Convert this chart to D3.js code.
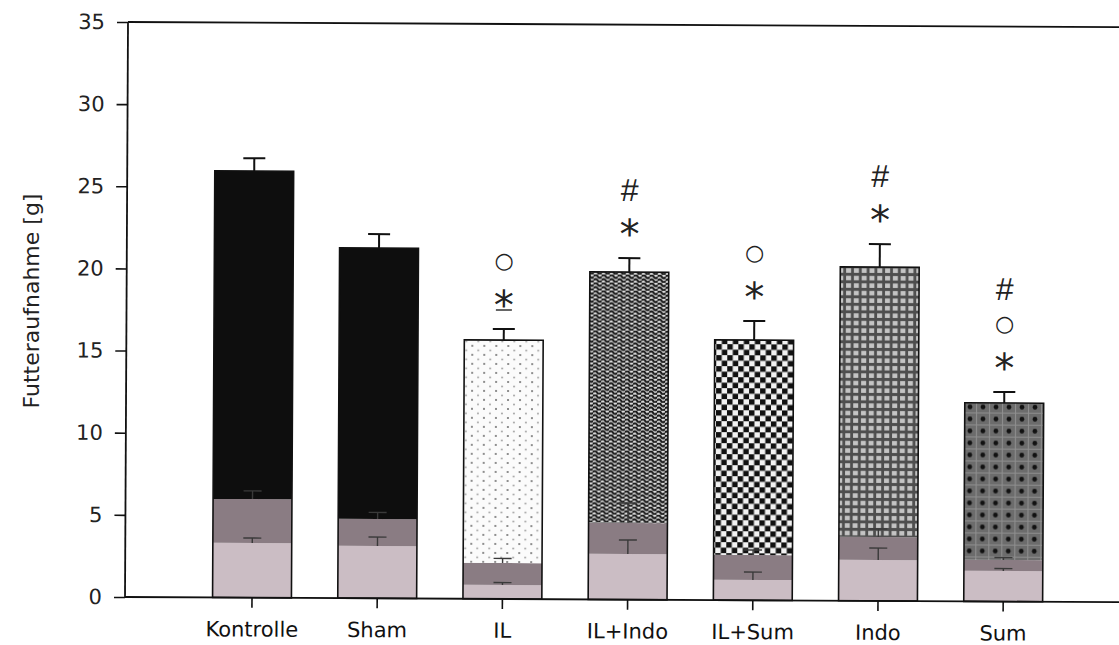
<!DOCTYPE html>
<html>
<head>
<meta charset="utf-8">
<script src="https://cdn.jsdelivr.net/npm/d3@7"></script>
<style>
  body { margin: 0; background: #fff; }
  svg { display: block; }
</style>
</head>
<body>
<svg id="chart" width="1119" height="645"></svg>
<script>
// Food intake per group, stacked in three portions (g)
const categories = ["Kontrolle", "Sham", "IL", "IL+Indo", "IL+Sum", "Indo", "Sum"];
const baseValues = [3.33, 3.18, 0.85, 2.78, 1.24, 2.49, 1.86];
const midValues  = [2.67, 1.65, 1.34, 1.88, 1.52, 1.40, 0.67];
const topValues  = [19.97, 16.49, 13.57, 15.28, 13.08, 16.43, 9.56];
const baseErr  = [0.3, 0.55, 0.15, 0.85, 0.48, 0.73, 0.15];
const midErr   = [0.5, 0.4, 0.28, 1.22, 0.3, 0.49, 0.15];
const totalErr = [0.78, 0.85, 0.67, 0.85, 1.16, 1.4, 0.67];
const topFills = ["solid", "solid", "dots", "waves", "checker", "grid", "darkdots"];
// significance marks, listed top to bottom
const marks = [[], [], ["○", "*"], ["#", "*"], ["○", "*"], ["#", "*"], ["#", "○", "*"]];
const underlinedStar = ["IL"];
const yTicks = [0, 5, 10, 15, 20, 25, 30, 35];
const yLabel = "Futteraufnahme [g]";

const rows = categories.map((c, i) => ({
  cat: c, base: baseValues[i], mid: midValues[i], top: topValues[i],
  baseErr: baseErr[i], midErr: midErr[i], totalErr: totalErr[i],
  fill: topFills[i], marks: marks[i]
}));

const svg = d3.select("#chart");
const defs = svg.append("defs");

const x0 = 125, yBottom = 597, yTop = 22;
const x = d3.scaleBand().domain(categories).range([189.4, 1065.8])
  .paddingInner(0.37).paddingOuter(0.185);
const y = d3.scaleLinear().domain([0, 35]).range([yBottom, yTop]);

// ---- fill patterns for the top portion ----
function pattern(id, w, h, draw) {
  const p = defs.append("pattern").attr("id", id)
    .attr("patternUnits", "userSpaceOnUse").attr("width", w).attr("height", h);
  draw(p);
}
pattern("dots", 12, 9, p => {
  p.append("rect").attr("width", 12).attr("height", 9).attr("fill", "#fbfbfb");
  p.append("circle").attr("cx", 3).attr("cy", 2).attr("r", 1).attr("fill", "#6a6a6a");
  p.append("circle").attr("cx", 9).attr("cy", 6.5).attr("r", 0.9).attr("fill", "#9a9a9a");
});
pattern("waves", 8, 8, p => {
  p.append("rect").attr("width", 8).attr("height", 8).attr("fill", "#e0e0e0");
  p.append("path").attr("d", "M0,2 q2,-3 4,0 t4,0 M0,6 q2,-3 4,0 t4,0")
    .attr("fill", "none").attr("stroke", "#111").attr("stroke-width", 2.2);
});
pattern("checker", 11, 11, p => {
  p.append("rect").attr("width", 11).attr("height", 11).attr("fill", "#f2f2f2");
  p.append("rect").attr("width", 5.5).attr("height", 5.5).attr("fill", "#111");
  p.append("rect").attr("x", 5.5).attr("y", 5.5).attr("width", 5.5).attr("height", 5.5).attr("fill", "#111");
});
pattern("grid", 7.8, 7.5, p => {
  p.append("rect").attr("width", 7.8).attr("height", 7.5).attr("fill", "#4e4e4e");
  p.append("rect").attr("x", 2).attr("y", 2).attr("width", 5).attr("height", 4.5).attr("fill", "#c4c4c4");
});
pattern("darkdots", 13, 12, p => {
  p.append("rect").attr("width", 13).attr("height", 12).attr("fill", "#6c6c6c");
  p.append("path").attr("d", "M0,0.5 H13 M0.5,0 V12").attr("stroke", "#8e8e8e").attr("stroke-width", 1.2);
  p.append("circle").attr("cx", 7).attr("cy", 6.5).attr("r", 2.4).attr("fill", "#111");
});
const fillFor = f => f === "solid" ? "#0e0e0e" : `url(#${f})`;

// slight rotation of the whole plot
const g = svg.append("g").attr("transform", `rotate(0.3, ${x0}, ${yBottom})`);

// ---- stacked bars ----
const stack = d3.stack().keys(["base", "mid", "top"])(rows);
const segFill = {
  base: () => "#cbbdc4",
  mid: () => "#8a7c83",
  top: d => fillFor(d.data.fill)
};
stack.forEach(layer => {
  g.append("g").selectAll("rect").data(layer).join("rect")
    .attr("x", d => x(d.data.cat))
    .attr("width", x.bandwidth())
    .attr("y", d => y(d[1]))
    .attr("height", d => y(d[0]) - y(d[1]))
    .attr("fill", d => segFill[layer.key](d));
});

// outline around each whole bar
g.append("g").selectAll("rect").data(rows).join("rect")
  .attr("x", d => x(d.cat))
  .attr("width", x.bandwidth())
  .attr("y", d => y(d.base + d.mid + d.top))
  .attr("height", d => y(0) - y(d.base + d.mid + d.top))
  .attr("fill", "none").attr("stroke", "#111").attr("stroke-width", 1.6);

// ---- error bars ----
function errBars(val, err, half, color, width) {
  const eg = g.append("g").attr("stroke", color).attr("stroke-width", width);
  rows.forEach(d => {
    const cx = x(d.cat) + x.bandwidth() / 2;
    const v = val(d), e = err(d);
    eg.append("line").attr("x1", cx).attr("x2", cx).attr("y1", y(v)).attr("y2", y(v + e));
    eg.append("line").attr("x1", cx - half).attr("x2", cx + half).attr("y1", y(v + e)).attr("y2", y(v + e));
  });
}
errBars(d => d.base, d => d.baseErr, 9, "#3a3a3a", 1.4);
errBars(d => d.base + d.mid, d => d.midErr, 9, "#3a3a3a", 1.4);
errBars(d => d.base + d.mid + d.top, d => d.totalErr, 11, "#111", 2);

// ---- significance marks ----
const markFont = { "*": ["DejaVu Sans", 40, 23], "#": ["Liberation Sans", 32, 11], "○": ["DejaVu Sans", 22, 7] };
rows.forEach(d => {
  const cx = x(d.cat) + x.bandwidth() / 2;
  const capY = y(d.base + d.mid + d.top + d.totalErr);
  const n = d.marks.length;
  d.marks.forEach((m, j) => {
    const cy = capY - 33 - (n - 1 - j) * 35;
    const [fam, size, off] = markFont[m];
    g.append("text").attr("x", cx).attr("y", cy + off)
      .attr("text-anchor", "middle").attr("font-family", fam).attr("font-size", size)
      .attr("fill", "#222").text(m);
    if (m === "*" && underlinedStar.includes(d.cat)) {
      g.append("line").attr("x1", cx - 8).attr("x2", cx + 8)
        .attr("y1", cy + 14).attr("y2", cy + 14).attr("stroke", "#333").attr("stroke-width", 1.5);
    }
  });
});

// ---- axes ----
const yAxis = g.append("g").attr("transform", `translate(${x0},0)`)
  .call(d3.axisLeft(y).tickValues(yTicks).tickSize(11).tickPadding(12).tickSizeOuter(0));
yAxis.select(".domain").remove();
yAxis.selectAll("line").attr("stroke", "#111").attr("stroke-width", 1.6);
yAxis.selectAll("text").attr("font-family", "DejaVu Sans").attr("font-size", 21).attr("fill", "#222");

const xAxis = g.append("g").attr("transform", `translate(0,${yBottom})`)
  .call(d3.axisBottom(x).tickSize(10).tickPadding(14).tickSizeOuter(0));
xAxis.select(".domain").remove();
xAxis.selectAll("line").attr("stroke", "#111").attr("stroke-width", 1.6);
xAxis.selectAll("text").attr("font-family", "DejaVu Sans").attr("font-size", 21).attr("fill", "#111");

// frame lines: left, bottom and top
const frame = g.append("g").attr("stroke", "#111").attr("stroke-width", 1.8).attr("fill", "none");
frame.append("line").attr("x1", x0).attr("x2", x0).attr("y1", y(0)).attr("y2", y(35));
frame.append("line").attr("x1", x0).attr("x2", 1135).attr("y1", y(0)).attr("y2", y(0));
frame.append("line").attr("x1", x0).attr("x2", 1135).attr("y1", y(35)).attr("y2", y(35));

// y-axis title
svg.append("text")
  .attr("transform", `translate(39, 301) rotate(-90)`)
  .attr("text-anchor", "middle").attr("font-family", "DejaVu Sans").attr("font-size", 22)
  .attr("fill", "#222").text(yLabel);
</script>
</body>
</html>
